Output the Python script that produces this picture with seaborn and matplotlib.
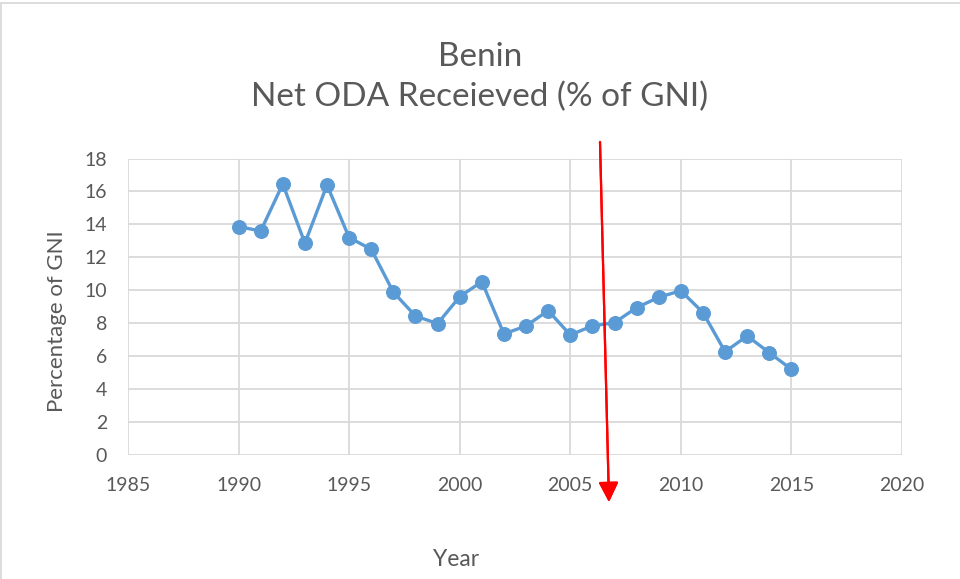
import pandas as pd
import matplotlib.pyplot as plt
import seaborn as sns
from matplotlib.lines import Line2D

# Net ODA received (% of GNI), Benin
years = list(range(1990, 2016))
oda_pct = [13.86, 13.59, 16.45, 12.85, 16.39, 13.19, 12.48, 9.87, 8.42, 7.96,
           9.60, 10.51, 7.33, 7.82, 8.75, 7.27, 7.82, 8.02, 8.93, 9.56,
           9.96, 8.63, 6.25, 7.21, 6.19, 5.18]
x_ticks = [1985, 1990, 1995, 2000, 2005, 2010, 2015, 2020]
y_ticks = [0, 2, 4, 6, 8, 10, 12, 14, 16, 18]

df = pd.DataFrame({"Year": years, "ODA": oda_pct})

sns.set_style("white")
plt.rcParams["font.family"] = ["Lato", "DejaVu Sans"]
text_color = "#595959"
grid_color = "#D9D9D9"
line_color = "#5B9BD5"

fig = plt.figure(figsize=(9.6, 5.79), dpi=100)
ax = fig.add_axes([128 / 960, 1 - 454.5 / 579, 774 / 960, 296 / 579])

sns.lineplot(data=df, x="Year", y="ODA", ax=ax, color=line_color, linewidth=2.4,
             marker="o", markersize=10, markeredgecolor=line_color)

ax.set_xlim(1985, 2020)
ax.set_ylim(0, 18)
ax.set_xticks(x_ticks)
ax.set_yticks(y_ticks)
ax.grid(True, color=grid_color, linewidth=1.3)
ax.set_axisbelow(True)
for s in ax.spines.values():
    s.set_visible(False)
ax.tick_params(axis="both", length=0, labelsize=14, colors=text_color)
ax.tick_params(axis="y", pad=15)
ax.tick_params(axis="x", pad=16)
ax.set_xlabel("")
ax.set_ylabel("")

# titles and axis labels
fig.text(0.5, 1 - 66 / 579, "Benin", ha="center", va="baseline", fontsize=24, color=text_color)
fig.text(0.5, 1 - 106 / 579, "Net ODA Receieved (% of GNI)", ha="center", va="baseline",
         fontsize=24, color=text_color)
fig.text(57 / 960, 1 - 321.5 / 579, "Percentage of GNI", rotation=90, ha="center", va="center",
         fontsize=16, color=text_color)
fig.text(456 / 960, 1 - 566 / 579, "Year", ha="center", va="baseline", fontsize=16.5, color=text_color)

# red arrow annotation
fig.add_artist(plt.annotate("", xy=(609, 579 - 502), xytext=(600, 579 - 142),
                            xycoords="figure pixels", textcoords="figure pixels",
                            arrowprops=dict(arrowstyle="-|>,head_length=1.0,head_width=0.5",
                                            color="red", lw=1.6, mutation_scale=12,
                                            shrinkA=0, shrinkB=0)))

# chart border
fig.add_artist(Line2D([1 / 960, 1 / 960], [0, 1 - 3 / 579], color=grid_color, lw=1.3))
fig.add_artist(Line2D([1 / 960, 1], [1 - 3 / 579, 1 - 3 / 579], color=grid_color, lw=1.3))

plt.savefig("out.png", dpi=100)
